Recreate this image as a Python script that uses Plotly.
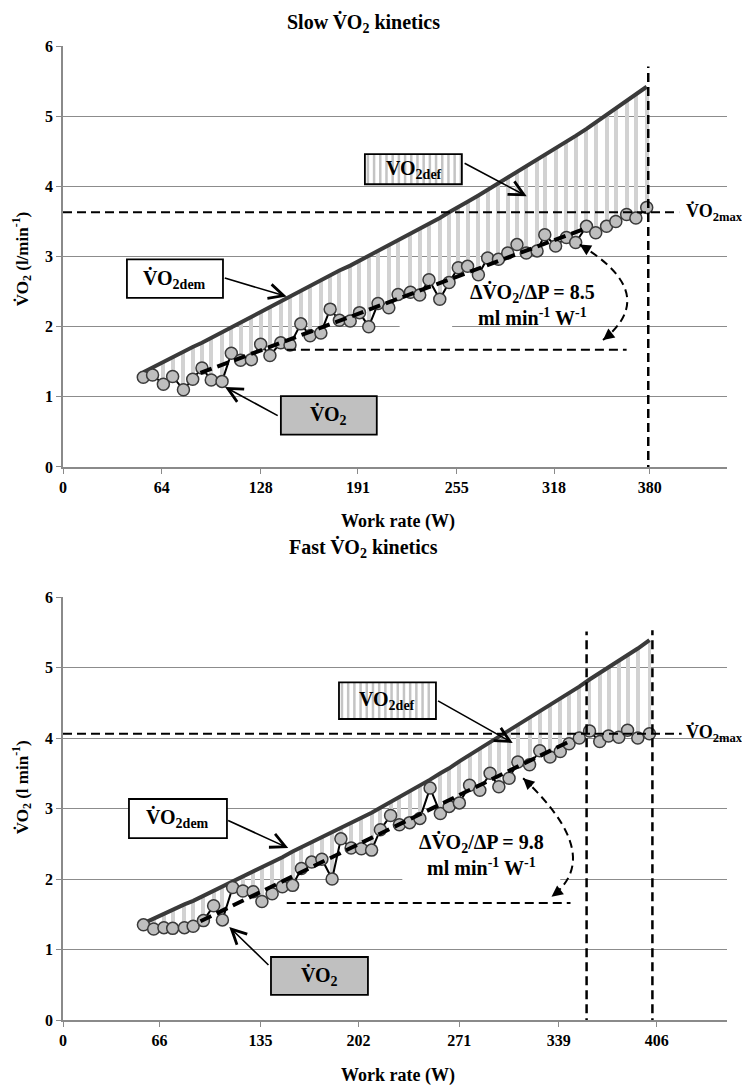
import numpy as np
import plotly.graph_objects as go

# ---------------- data: slow kinetics (top) ----------------
top_w = [52, 58, 65, 71, 78, 84, 90, 96, 103, 109,
         115, 122, 128, 134, 141, 147, 154, 160, 167, 173,
         179, 186, 192, 198, 204, 211, 217, 225, 231, 237,
         244, 250, 256, 262, 269, 275, 282, 288, 294, 300,
         307, 312, 319, 326, 332, 339, 345, 352, 358, 365,
         371, 378]
top_vo2 = [1.28, 1.31, 1.18, 1.29, 1.10, 1.25, 1.41, 1.24, 1.22, 1.62,
           1.52, 1.53, 1.75, 1.59, 1.77, 1.74, 2.04, 1.87, 1.91, 2.25,
           2.09, 2.08, 2.20, 2.00, 2.33, 2.27, 2.46, 2.49, 2.45, 2.67,
           2.39, 2.63, 2.84, 2.86, 2.74, 2.98, 2.96, 3.05, 3.17, 3.05,
           3.08, 3.31, 3.15, 3.27, 3.20, 3.43, 3.34, 3.43, 3.50, 3.60,
           3.55, 3.70]
top_dem = [1.35, 1.42, 1.49, 1.56, 1.64, 1.71, 1.77, 1.84, 1.92, 1.99,
           2.06, 2.14, 2.21, 2.28, 2.36, 2.43, 2.52, 2.59, 2.67, 2.74,
           2.80, 2.87, 2.94, 3.01, 3.07, 3.15, 3.22, 3.32, 3.39, 3.46,
           3.55, 3.63, 3.70, 3.78, 3.87, 3.95, 4.04, 4.12, 4.20, 4.28,
           4.38, 4.45, 4.54, 4.64, 4.72, 4.82, 4.91, 5.02, 5.11, 5.21,
           5.31, 5.42]
top_reg_w = [89, 337]
top_reg_v = [1.34, 3.39]
top_ticks = [0, 64, 128, 191, 255, 318, 380]
top_vo2max = 3.63
top_pmax = 379
top_base_v = 1.67
top_base_w = [145, 365]

# ---------------- data: fast kinetics (bottom) ----------------
bot_w = [55, 62, 69, 75, 83, 89, 96, 103, 109, 116,
         123, 130, 136, 143, 150, 157, 163, 170, 177, 184,
         190, 197, 204, 211, 217, 224, 230, 237, 244, 251,
         258, 264, 271, 278, 285, 292, 298, 305, 311, 319,
         326, 333, 340, 346, 353, 360, 367, 373, 380, 386,
         393, 401]
bot_vo2 = [1.35, 1.29, 1.31, 1.30, 1.31, 1.33, 1.41, 1.62, 1.42, 1.88,
           1.83, 1.82, 1.68, 1.79, 1.89, 1.91, 2.15, 2.24, 2.28, 2.00,
           2.57, 2.44, 2.43, 2.41, 2.70, 2.90, 2.77, 2.80, 2.86, 3.29,
           2.93, 3.03, 3.08, 3.33, 3.26, 3.50, 3.31, 3.43, 3.66, 3.62,
           3.82, 3.73, 3.81, 3.92, 4.00, 4.10, 3.95, 4.03, 4.01, 4.11,
           4.00, 4.06]
bot_dem = [1.37, 1.44, 1.50, 1.56, 1.64, 1.69, 1.76, 1.83, 1.89, 1.96,
           2.03, 2.10, 2.17, 2.24, 2.31, 2.39, 2.45, 2.53, 2.60, 2.66,
           2.72, 2.79, 2.86, 2.94, 3.01, 3.09, 3.16, 3.24, 3.32, 3.41,
           3.50, 3.57, 3.67, 3.76, 3.85, 3.94, 4.02, 4.11, 4.19, 4.29,
           4.38, 4.47, 4.56, 4.64, 4.73, 4.83, 4.92, 5.00, 5.10, 5.18,
           5.27, 5.39]
bot_reg_w = [94, 348]
bot_reg_v = [1.40, 3.97]
bot_ticks = [0, 66, 135, 202, 271, 339, 406]
bot_vo2max = 4.06
bot_pvo2max = 358
bot_pmax = 403
bot_base_v = 1.66
bot_base_w = [153, 347]

FONT = "'Liberation Serif', 'Times New Roman', 'DejaVu Serif', serif"
V = "V\u0307"
fig = go.Figure()
shapes = []
anns = []


def panel(w, vo2, dem, reg_w, reg_v, xa, ya, barw):
    deficit = [d - v for d, v in zip(dem, vo2)]
    fig.add_trace(go.Bar(x=w, y=deficit, base=vo2, width=barw,
                         marker=dict(color="#d2d2d2", line=dict(width=0)),
                         xaxis=xa, yaxis=ya, showlegend=False, hoverinfo="skip"))
    fig.add_trace(go.Scatter(x=w, y=dem, mode="lines",
                             line=dict(color="#3a3a3a", width=4),
                             xaxis=xa, yaxis=ya, showlegend=False))
    fig.add_trace(go.Scatter(x=w, y=vo2, mode="lines+markers",
                             line=dict(color="black", width=2),
                             marker=dict(size=12, color="#bebebe",
                                         line=dict(color="#3a3a3a", width=1.5)),
                             xaxis=xa, yaxis=ya, showlegend=False))
    fig.add_trace(go.Scatter(x=reg_w, y=reg_v, mode="lines",
                             line=dict(color="black", width=4, dash="12px,6px"),
                             xaxis=xa, yaxis=ya, showlegend=False))


panel(top_w, top_vo2, top_dem, top_reg_w, top_reg_v, "x", "y", 2.6)
panel(bot_w, bot_vo2, bot_dem, bot_reg_w, bot_reg_v, "x2", "y2", 2.7)


def dline(xr, yr, x0, y0, x1, y1, dash="9px,5px", width=2, layer="above"):
    shapes.append(dict(type="line", xref=xr, yref=yr, x0=x0, y0=y0, x1=x1, y1=y1,
                       line=dict(color="black", width=width, dash=dash), layer=layer))


def box(xr, yr, x0, x1, y0, y1, fill="white", striped=False, px_per_w=1.5):
    shapes.append(dict(type="rect", xref=xr, yref=yr, x0=x0, x1=x1, y0=y0, y1=y1,
                       fillcolor=fill, line=dict(width=0)))
    if striped:
        for xs in np.arange(x0 + 3 / px_per_w, x1 - 1 / px_per_w, 6.2 / px_per_w):
            shapes.append(dict(type="line", xref=xr, yref=yr, x0=xs, x1=xs, y0=y0, y1=y1,
                               line=dict(color="#c4c4c4", width=2.5)))
    shapes.append(dict(type="rect", xref=xr, yref=yr, x0=x0, x1=x1, y0=y0, y1=y1,
                       fillcolor="rgba(0,0,0,0)", line=dict(color="black", width=1.8)))


def txt(xr, yr, x, y, text, size=18, xanchor="center", angle=0):
    anns.append(dict(xref=xr, yref=yr, x=x, y=y, text=text, showarrow=False,
                     xanchor=xanchor, yanchor="middle", textangle=angle,
                     font=dict(family=FONT, size=size, color="black")))


def arrow(xr, yr, hx, hy, tx, ty, head=5, size=1.8, width=1.6):
    anns.append(dict(xref=xr, yref=yr, axref=xr, ayref=yr, x=hx, y=hy, ax=tx, ay=ty,
                     text="", showarrow=True, arrowhead=head, arrowsize=size,
                     arrowwidth=width, arrowcolor="black", standoff=0))


def curve(xr, yr, p0, mid, p2):
    cx = 2 * mid[0] - 0.5 * (p0[0] + p2[0])
    cy = 2 * mid[1] - 0.5 * (p0[1] + p2[1])
    shapes.append(dict(type="path", xref=xr, yref=yr,
                       path=f"M {p0[0]},{p0[1]} Q {cx},{cy} {p2[0]},{p2[1]}",
                       line=dict(color="black", width=2, dash="8px,5px")))
    arrow(xr, yr, p0[0], p0[1], p0[0] + 0.12 * (cx - p0[0]), p0[1] + 0.12 * (cy - p0[1]),
          head=2, size=1.5, width=1.5)
    arrow(xr, yr, p2[0], p2[1], p2[0] + 0.12 * (cx - p2[0]), p2[1] + 0.12 * (cy - p2[1]),
          head=2, size=1.5, width=1.5)


# ---------------- top panel decorations ----------------
shapes.append(dict(type="rect", xref="x", yref="y", x0=218, x1=252, y0=1.87, y1=2.13,
                   fillcolor="white", line=dict(width=0), layer="between"))
dline("x", "y", 0, top_vo2max, 399, top_vo2max)
dline("x", "y", top_pmax, -0.3, top_pmax, 5.71, width=2.5)
dline("x", "y", top_base_w[0], top_base_v, top_base_w[1], top_base_v)
curve("x", "y", (334.6, 3.17), (364.8, 2.48), (349.7, 1.81))
box("x", "y", 195.5, 258.3, 4.03, 4.46, striped=True, px_per_w=1.545)
box("x", "y", 41.4, 103.6, 2.41, 2.96)
box("x", "y", 141.1, 203.2, 0.46, 1.01, fill="#c0c0c0")
txt("x", "y", 227, 4.245, "<b>VO<sub>2def</sub></b>", size=20)
txt("x", "y", 72.5, 2.685, f"<b>{V}O<sub>2dem</sub></b>", size=20)
txt("x", "y", 172, 0.735, f"<b>{V}O<sub>2</sub></b>", size=20)
arrow("x", "y", 300.3, 3.86, 259.1, 4.34)
arrow("x", "y", 144.8, 2.43, 103.8, 2.70)
arrow("x", "y", 104.9, 1.14, 140.0, 0.72)
txt("x", "y", 303.9, 2.31, f"<b>\u0394{V}O<sub>2</sub>/\u0394P = 8.5<br>ml min<sup>-1</sup> W<sup>-1</sup></b>", size=20)
txt("x", "y", 402.3, top_vo2max, f"<b>{V}O<sub>2max</sub></b>", size=18, xanchor="left")
txt("x", "y", 382, -0.73, f"<b>P{V}O<sub>2max</sub> = P<sub>max</sub></b>", size=19)
txt("paper", "y", -0.062, 2.96, f"<b>{V}O<sub>2</sub> (l/min<sup>-1</sup>)</b>", size=17, angle=-90)
txt("paper", "paper", 0.452, 1.0236, f"<b>Slow {V}O<sub>2</sub> kinetics</b>", size=20)
txt("paper", "paper", 0.505, 0.5113, "<b>Work rate (W)</b>", size=18)

# ---------------- bottom panel decorations ----------------
shapes.append(dict(type="rect", xref="x2", yref="y2", x0=232, x1=340, y0=1.91, y1=2.72,
                   fillcolor="white", line=dict(width=0), layer="between"))
dline("x2", "y2", 0, bot_vo2max, 423, bot_vo2max)
dline("x2", "y2", bot_pvo2max, -0.5, bot_pvo2max, 5.51, width=2.5)
dline("x2", "y2", bot_pmax, -0.5, bot_pmax, 5.53, width=2.5)
dline("x2", "y2", bot_base_w[0], bot_base_v, bot_base_w[1], bot_base_v)
curve("x2", "y2", (314.6, 3.43), (347.7, 2.46), (334.0, 1.75))
box("x2", "y2", 188.7, 255.0, 4.27, 4.79, striped=True, px_per_w=1.463)
box("x2", "y2", 45.1, 112.1, 2.58, 3.135)
box("x2", "y2", 142.2, 208.5, 0.355, 0.894, fill="#c0c0c0")
txt("x2", "y2", 221.8, 4.53, "<b>VO<sub>2def</sub></b>", size=20)
txt("x2", "y2", 78.6, 2.86, f"<b>{V}O<sub>2dem</sub></b>", size=20)
txt("x2", "y2", 175.3, 0.625, f"<b>{V}O<sub>2</sub></b>", size=20)
arrow("x2", "y2", 307.5, 3.93, 255.4, 4.54)
arrow("x2", "y2", 154.0, 2.44, 111.9, 2.84)
arrow("x2", "y2", 113.7, 1.32, 141.5, 0.76)
txt("x2", "y2", 286.4, 2.35, f"<b>\u0394{V}O<sub>2</sub>/\u0394P = 9.8<br>ml min<sup>-1</sup> W<sup>-1</sup></b>", size=20)
txt("x2", "y2", 424.8, bot_vo2max, f"<b>{V}O<sub>2max</sub></b>", size=18, xanchor="left")
txt("x2", "y2", 382, -0.78, f"<b>P{V}O<sub>2max</sub> &lt; P<sub>max</sub></b>", size=19)
txt("paper", "y2", -0.062, 3.3, f"<b>{V}O<sub>2</sub> (l min<sup>-1</sup>)</b>", size=17, angle=-90)
txt("paper", "paper", 0.452, 0.4846, f"<b>Fast {V}O<sub>2</sub> kinetics</b>", size=20)
txt("paper", "paper", 0.505, -0.0565, "<b>Work rate (W)</b>", size=18)

tickfont = dict(family=FONT, size=16, color="black", weight="bold")
xcommon = dict(showgrid=False, zeroline=False, showline=True, linecolor="#8a8a8a", linewidth=1.5,
               ticks="outside", ticklen=5, tickcolor="#8a8a8a", tickfont=tickfont)
ycommon = dict(range=[0, 6.001], tickvals=[0, 1, 2, 3, 4, 5, 6], showgrid=True,
               gridcolor="#8c8c8c", gridwidth=1, zeroline=False, showline=True,
               linecolor="#8a8a8a", linewidth=1.5, ticks="outside", ticklen=5,
               tickcolor="#8a8a8a", tickfont=tickfont)

# page body has an 8px default margin: size the figure so the plot areas land where the reference has them
fig.update_layout(
    width=742, height=1080,
    margin=dict(l=55, r=23, t=38, b=68),
    paper_bgcolor="white", plot_bgcolor="white",
    barmode="overlay", bargap=0,
    showlegend=False,
    font=dict(family=FONT, color="black"),
    xaxis=dict(domain=[0, 1], anchor="y", range=[0, 430], tickvals=top_ticks,
               ticktext=[str(t) for t in top_ticks], **xcommon),
    yaxis=dict(domain=[0.5678, 1], anchor="x", **ycommon),
    xaxis2=dict(domain=[0, 1], anchor="y2", range=[0, 454], tickvals=bot_ticks,
                ticktext=[str(t) for t in bot_ticks], **xcommon),
    yaxis2=dict(domain=[0, 0.4343], anchor="x2", **ycommon),
    shapes=shapes,
    annotations=anns,
)

fig.write_html("out.html")
